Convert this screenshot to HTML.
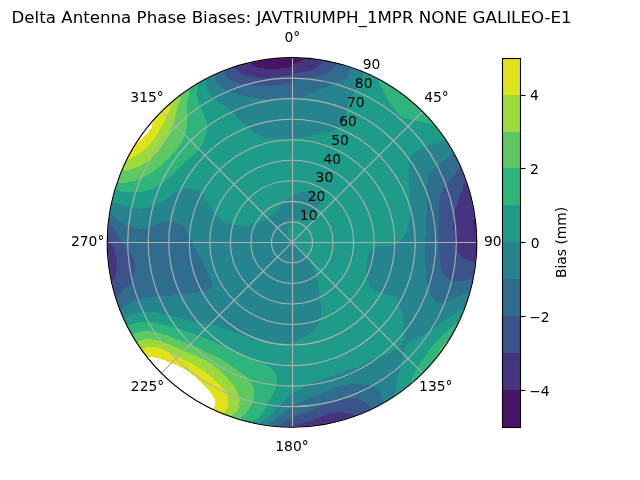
<!DOCTYPE html><html><head><meta charset="utf-8"><title>Delta Antenna Phase Biases</title>
<style>html,body{margin:0;padding:0;background:#fff}svg{display:block}text{font-family:'DejaVu Sans','Liberation Sans',sans-serif;fill:#000}</style></head><body>
<svg width="640" height="480" viewBox="0 0 640 480">
<rect width="640" height="480" fill="#fff"/>
<defs><clipPath id="c"><circle cx="292.000" cy="242.400" r="184.800"/></clipPath><clipPath id="cl"><rect x="0" y="0" width="292.5" height="243"/></clipPath><clipPath id="cr"><rect x="292.5" y="0" width="300" height="243"/></clipPath></defs>
<g clip-path="url(#c)" shape-rendering="crispEdges">
<rect x="100" y="50" width="390" height="390" fill="#1e9c89"/>
<path d="M111.7 202.3C116.7 203.2 120.7 204.4 125.0 205.5C129.3 206.6 133.8 208.2 137.5 208.6C141.2 209.0 143.8 208.5 146.9 207.8C150.0 207.2 153.2 206.0 156.3 204.7C159.4 203.4 163.2 201.6 165.6 200.0C168.0 198.4 169.0 196.6 171.0 195.2C173.0 193.8 175.1 192.4 177.8 191.3C180.5 190.2 184.3 189.2 187.2 188.9C190.1 188.6 192.7 188.9 195.0 189.7C197.3 190.5 199.5 191.9 201.3 193.6C203.1 195.3 204.4 197.6 205.9 199.8C207.4 202.0 209.0 204.6 210.6 206.9C212.2 209.2 213.5 211.8 215.3 213.9C217.1 216.0 219.2 217.8 221.6 219.4C223.9 221.0 226.5 222.3 229.4 223.3C232.3 224.3 235.7 225.2 238.8 225.6C241.9 226.0 245.0 226.0 248.1 225.6C251.2 225.2 254.6 224.2 257.5 223.3C260.4 222.4 263.1 221.4 265.3 220.2C267.5 219.0 268.6 217.6 270.5 216.0C272.4 214.4 274.6 213.1 276.6 210.9C278.7 208.8 280.5 205.3 282.8 203.1C285.1 200.9 288.0 199.4 290.6 197.7C293.2 196.0 295.8 194.1 298.4 193.0C301.0 191.9 303.9 191.5 306.3 191.4C308.7 191.3 310.3 190.8 312.5 192.2C314.7 193.6 318.4 197.8 319.5 200.0C320.6 202.2 320.0 203.7 318.8 205.5C317.6 207.3 314.9 209.2 312.5 210.9C310.1 212.6 307.3 214.2 304.7 215.6C302.1 217.0 299.2 218.3 296.9 219.5C294.5 220.7 292.0 221.3 290.6 222.7C289.2 224.1 288.7 225.9 288.3 228.1C287.9 230.3 287.7 233.5 288.3 235.9C288.9 238.3 290.3 240.3 292.0 242.3C293.7 244.3 296.3 245.7 298.4 247.8C300.5 249.9 302.7 252.5 304.7 254.8C306.7 257.1 308.6 259.4 310.2 261.9C311.8 264.4 312.9 266.8 314.1 269.7C315.3 272.6 316.4 275.7 317.2 279.1C318.0 282.5 318.3 286.1 318.8 290.0C319.3 293.9 319.8 299.2 320.3 302.5C320.8 305.8 321.7 307.1 321.6 310.0C321.6 312.9 320.9 317.0 320.0 320.0C319.1 323.0 318.0 325.5 316.0 328.0C314.0 330.5 311.0 333.0 308.0 335.0C305.0 337.0 300.7 338.8 298.0 340.0C295.3 341.2 294.0 341.9 292.0 342.5C290.0 343.1 288.7 343.4 286.0 343.5C283.3 343.6 279.7 343.4 276.0 343.0C272.3 342.6 268.0 341.8 264.0 341.0C260.0 340.2 256.0 339.1 252.0 338.0C248.0 336.9 243.7 335.7 240.0 334.5C236.3 333.3 233.3 332.2 230.0 331.0C226.7 329.8 223.3 328.7 220.0 327.5C216.7 326.3 212.7 324.6 210.0 324.0C207.3 323.4 206.4 323.9 203.8 323.6C201.2 323.3 198.1 322.8 194.4 322.0C190.8 321.2 186.1 320.1 181.9 318.9C177.7 317.7 173.6 316.0 169.4 315.0C165.2 314.0 161.1 313.2 156.9 312.7C152.7 312.2 148.3 311.6 144.4 311.9C140.5 312.1 136.7 313.2 133.4 314.2C130.1 315.2 129.5 315.5 124.8 318.1C120.1 320.7 111.6 339.7 105.0 330.0C98.4 320.3 86.7 281.7 85.0 260.0C83.3 238.3 90.5 209.6 95.0 200.0C99.5 190.4 106.7 201.4 111.7 202.3Z" fill="#25848e"/>
<path d="M205.6 80.0C207.5 84.4 205.8 84.2 206.3 86.3C206.8 88.4 207.7 90.5 208.8 92.5C209.9 94.5 211.4 96.4 213.1 98.1C214.8 99.8 216.8 101.1 218.8 102.5C220.8 103.9 222.9 104.8 225.0 106.3C227.1 107.8 229.4 109.6 231.3 111.3C233.2 113.0 234.8 114.6 236.3 116.3C237.9 118.0 239.2 120.0 240.6 121.3C242.0 122.6 243.0 122.6 244.7 124.1C246.4 125.6 248.8 128.5 250.9 130.3C253.0 132.1 254.8 133.8 257.2 135.0C259.6 136.2 262.1 136.7 265.0 137.3C267.9 138.0 271.3 138.6 274.4 138.9C277.5 139.2 280.9 138.9 283.8 138.9C286.7 138.9 289.1 139.0 292.0 138.8C294.9 138.6 297.7 138.1 301.3 137.5C304.9 136.9 309.9 136.0 313.8 135.2C317.7 134.4 321.6 133.6 324.7 132.8C327.8 132.0 330.1 131.4 332.5 130.5C334.9 129.6 337.0 128.7 338.8 127.3C340.6 125.9 342.2 124.1 343.4 121.9C344.6 119.7 345.1 116.7 345.8 114.1C346.5 111.5 346.5 109.2 347.3 106.3C348.1 103.4 349.2 100.0 350.8 96.9C352.4 93.8 354.9 91.3 357.0 87.5C359.1 83.7 361.1 80.5 363.3 74.2C365.5 68.0 381.9 56.5 370.0 50.0C358.1 43.5 321.2 33.3 292.0 35.0C262.8 36.7 209.4 52.5 195.0 60.0C180.6 67.5 203.7 75.6 205.6 80.0Z" fill="#25848e"/>
<path d="M444.8 139.4C441.4 141.3 437.9 142.1 434.7 143.3C431.4 144.5 428.4 145.1 425.3 146.4C422.2 147.7 418.4 149.5 415.9 151.1C413.4 152.7 411.7 153.9 410.5 155.8C409.3 157.8 409.2 159.3 408.9 162.8C408.6 166.3 408.8 172.0 408.9 176.9C409.0 181.8 409.4 187.8 409.7 192.5C410.0 197.2 410.4 201.7 410.5 205.0C410.6 208.3 410.8 209.4 410.5 212.5C410.2 215.6 409.8 219.8 408.9 223.4C408.0 227.1 406.7 231.3 405.0 234.4C403.3 237.5 401.2 240.2 398.8 242.2C396.4 244.1 393.5 245.4 390.6 246.1C387.7 246.8 384.0 245.8 381.3 246.1C378.6 246.4 376.2 246.7 374.2 247.7C372.2 248.7 370.7 250.4 369.5 252.3C368.3 254.2 367.7 256.6 367.2 259.4C366.7 262.1 366.4 265.7 366.4 268.8C366.4 271.9 366.7 275.2 367.2 278.1C367.7 281.0 368.2 283.8 369.5 285.9C370.8 288.0 373.0 289.4 375.0 290.6C377.0 291.8 378.9 292.4 381.3 293.0C383.7 293.6 386.8 293.9 389.1 294.5C391.4 295.1 393.7 295.5 395.3 296.9C396.9 298.3 397.5 300.5 398.5 302.8C399.5 305.1 400.3 307.7 401.1 310.6C401.9 313.5 402.9 316.9 403.4 320.0C403.9 323.1 404.0 326.5 404.2 329.4C404.4 332.3 405.0 334.7 404.5 337.2C404.0 339.7 402.5 342.2 401.0 344.4C399.5 346.6 397.8 348.9 395.3 350.6C392.8 352.3 389.3 353.2 385.9 354.5C382.5 355.8 378.6 356.8 375.0 358.4C371.4 360.0 367.2 362.3 364.1 363.9C361.0 365.5 358.7 366.9 356.3 367.8C353.9 368.7 352.9 368.1 349.7 369.1C346.5 370.1 341.4 372.2 337.2 373.8C333.0 375.4 328.9 376.8 324.7 378.4C320.5 379.9 316.1 381.4 312.2 383.1C308.3 384.8 304.7 386.8 301.3 388.6C297.9 390.4 294.3 392.3 292.0 393.8C289.7 395.3 289.1 396.1 287.5 397.5C285.9 398.9 284.2 400.7 282.5 402.5C280.8 404.3 279.2 406.3 277.5 408.1C275.8 409.9 274.2 411.5 272.5 413.1C270.8 414.7 269.2 416.1 267.5 417.5C265.8 418.9 263.9 420.2 262.5 421.3C261.1 422.4 260.6 422.1 259.4 424.4C258.1 426.7 243.2 431.6 255.0 435.0C266.8 438.4 305.8 449.2 330.0 445.0C354.2 440.8 389.1 418.3 400.0 410.0C410.9 401.7 395.8 399.9 395.3 395.2C394.8 390.5 396.1 386.2 396.9 381.9C397.7 377.6 399.1 373.3 400.0 369.4C400.9 365.5 401.7 361.5 402.3 358.4C402.9 355.3 402.9 353.1 403.9 350.6C404.8 348.1 405.7 345.5 408.0 343.5C410.3 341.5 414.4 340.6 417.5 338.8C420.6 337.0 423.8 334.6 426.9 332.5C430.0 330.4 433.2 328.4 436.3 326.3C439.4 324.2 442.5 322.1 445.6 320.0C448.7 317.9 451.9 315.8 455.0 313.8C458.1 311.9 460.2 310.6 464.4 308.3C468.6 306.0 474.9 311.4 480.0 300.0C485.1 288.6 495.0 265.0 495.0 240.0C495.0 215.0 486.7 168.0 480.0 150.0C473.3 132.0 460.9 133.8 455.0 132.0C449.1 130.2 448.2 137.5 444.8 139.4Z" fill="#25848e"/>
<path d="M109.4 213.1C112.3 214.4 113.3 216.1 115.6 217.8C117.9 219.5 120.8 221.7 123.4 223.3C126.0 224.9 128.4 226.3 131.3 227.2C134.2 228.1 137.5 228.9 140.6 228.8C143.7 228.7 146.9 227.3 150.0 226.4C153.1 225.5 156.3 224.2 159.4 223.3C162.5 222.5 165.7 221.3 168.8 221.3C171.9 221.3 175.5 222.2 178.1 223.3C180.7 224.4 182.6 226.1 184.4 228.0C186.2 229.9 187.3 231.5 189.1 235.0C190.9 238.5 193.0 244.7 195.0 248.8C197.0 252.9 199.5 256.3 201.3 259.7C203.1 263.1 204.5 266.0 205.9 269.1C207.3 272.2 208.8 275.3 209.8 278.4C210.8 281.5 212.3 285.8 211.9 287.8C211.5 289.8 209.3 289.6 207.5 290.2C205.7 290.8 203.7 291.2 201.3 291.7C199.0 292.2 196.1 292.9 193.4 293.3C190.7 293.7 188.5 293.6 185.0 294.0C181.5 294.4 177.2 295.1 172.5 295.5C167.8 295.9 162.1 295.8 156.9 296.3C151.7 296.8 145.7 297.6 141.3 298.6C136.9 299.6 133.7 300.8 130.3 302.5C126.9 304.2 125.1 306.2 120.9 308.8C116.7 311.4 110.5 326.1 105.0 318.0C99.5 309.9 89.2 278.0 88.0 260.0C86.8 242.0 94.4 217.8 98.0 210.0C101.6 202.2 106.5 211.8 109.4 213.1Z" fill="#2f6c8e"/>
<path d="M214.4 75.6C216.2 78.7 214.9 79.0 215.6 80.6C216.3 82.2 217.4 83.6 218.8 85.0C220.2 86.4 221.9 87.6 223.8 88.8C225.7 90.0 227.7 91.0 230.0 91.9C232.3 92.8 235.0 93.7 237.5 94.4C240.0 95.1 242.9 95.9 245.0 96.3C247.1 96.7 247.2 96.4 250.0 96.9C252.8 97.4 257.9 98.7 262.0 99.2C266.1 99.7 270.6 99.8 274.5 99.7C278.4 99.6 282.5 98.8 285.4 98.4C288.3 98.0 289.1 97.8 292.0 97.5C294.9 97.2 299.4 97.4 303.0 96.5C306.6 95.6 310.0 93.6 313.3 92.2C316.6 90.8 319.2 89.6 322.6 88.3C326.0 87.0 330.0 85.8 333.6 84.4C337.2 83.0 341.9 81.3 344.5 79.7C347.1 78.1 348.0 76.8 348.9 75.0C349.8 73.2 349.0 74.1 350.0 69.1C351.0 64.1 364.7 50.7 355.0 45.0C345.3 39.3 317.0 32.2 292.0 35.0C267.0 37.8 217.9 55.2 205.0 62.0C192.1 68.8 212.6 72.5 214.4 75.6Z" fill="#2f6c8e"/>
<path d="M452.7 152.7C450.0 154.6 448.1 157.6 445.6 159.7C443.1 161.8 440.1 163.2 437.8 165.2C435.5 167.1 433.3 169.2 431.6 171.4C429.9 173.6 428.5 175.4 427.7 178.4C426.9 181.4 426.7 185.0 426.6 189.4C426.5 193.8 427.0 200.6 426.9 205.0C426.8 209.4 426.3 211.2 426.1 215.6C425.9 220.0 425.7 226.1 425.6 231.3C425.5 236.5 425.4 241.7 425.3 246.9C425.2 252.1 425.2 258.6 425.3 262.5C425.4 266.4 425.8 266.7 426.1 270.0C426.4 273.3 426.2 278.6 426.9 282.5C427.5 286.4 428.7 290.4 430.0 293.4C431.3 296.4 432.9 298.8 434.7 300.5C436.5 302.2 438.5 303.6 440.9 303.6C443.2 303.6 445.9 301.7 448.8 300.5C451.7 299.3 455.2 297.8 458.1 296.6C461.0 295.4 463.9 294.2 465.9 293.4C467.8 292.6 466.6 292.8 469.8 291.9C473.0 291.0 480.8 296.6 485.0 288.0C489.2 279.4 495.0 259.7 495.0 240.0C495.0 220.3 490.5 185.3 485.0 170.0C479.5 154.7 467.4 150.9 462.0 148.0C456.6 145.1 455.4 150.8 452.7 152.7Z" fill="#2f6c8e"/>
<path d="M383.6 402.2C381.4 399.8 382.9 398.0 382.0 395.9C381.1 393.8 380.1 391.5 378.1 389.7C376.2 387.9 372.7 385.8 370.3 385.0C367.9 384.2 366.5 384.9 363.8 384.7C361.1 384.5 358.0 383.8 354.4 383.9C350.8 384.0 346.0 384.5 341.9 385.5C337.8 386.5 334.0 388.5 330.0 390.0C326.0 391.5 321.7 393.1 318.0 394.5C314.3 395.9 311.3 397.0 308.0 398.5C304.7 400.0 300.7 402.1 298.0 403.5C295.3 404.9 293.8 405.8 292.0 406.9C290.2 408.0 289.1 408.9 287.5 410.0C285.9 411.1 284.2 412.6 282.5 413.8C280.8 415.1 279.2 416.2 277.5 417.5C275.8 418.8 273.9 419.9 272.5 421.3C271.1 422.7 270.6 423.2 268.8 425.6C267.1 428.1 251.8 432.8 262.0 436.0C272.2 439.2 307.8 449.3 330.0 445.0C352.2 440.7 386.1 417.1 395.0 410.0C403.9 402.9 385.8 404.6 383.6 402.2Z" fill="#2f6c8e"/>
<path d="M224.4 71.3C226.3 74.5 225.2 75.4 226.3 76.9C227.5 78.5 229.4 79.6 231.3 80.6C233.2 81.6 234.8 82.1 237.5 82.8C240.2 83.5 243.9 84.0 247.5 84.6C251.1 85.2 254.8 86.1 258.8 86.3C262.8 86.5 267.1 86.1 271.3 85.8C275.5 85.5 280.4 85.0 283.8 84.5C287.2 84.0 289.3 83.5 292.0 83.1C294.7 82.7 297.8 88.3 300.0 82.0C302.2 75.7 306.3 52.8 305.0 45.0C303.7 37.2 307.0 32.8 292.0 35.0C277.0 37.2 226.3 52.0 215.0 58.0C203.7 64.0 222.5 68.1 224.4 71.3Z" fill="#3b528b" clip-path="url(#cl)"/>
<path d="M284.0 81.5C286.0 84.9 289.3 80.9 292.0 80.6C294.7 80.2 297.0 79.8 300.0 79.4C303.0 79.0 306.7 78.7 310.0 78.1C313.3 77.5 316.6 77.2 320.0 76.0C323.4 74.8 328.0 72.6 330.4 71.1C332.8 69.6 333.3 68.3 334.3 67.2C335.3 66.1 335.1 68.1 336.4 64.4C337.7 60.7 349.4 49.9 342.0 45.0C334.6 40.1 302.3 32.5 292.0 35.0C281.7 37.5 281.3 52.2 280.0 60.0C278.7 67.8 282.0 78.1 284.0 81.5Z" fill="#3b528b" clip-path="url(#cr)"/>
<path d="M460.5 166.7C458.0 169.0 456.9 171.3 455.0 173.8C453.1 176.3 450.8 179.0 448.8 181.6C446.9 184.2 444.7 186.8 443.3 189.4C441.9 192.0 440.9 194.6 440.2 197.2C439.5 199.8 439.4 201.9 439.1 205.0C438.8 208.1 438.7 211.2 438.6 215.6C438.5 220.0 438.5 226.1 438.6 231.3C438.7 236.5 438.8 241.7 439.1 246.9C439.4 252.1 439.8 258.6 440.2 262.5C440.6 266.4 441.0 268.0 441.7 270.0C442.4 272.0 442.9 273.1 444.1 274.7C445.3 276.3 447.0 278.3 448.8 279.4C450.6 280.5 452.4 281.2 455.0 281.3C457.6 281.4 461.3 280.8 464.4 280.2C467.5 279.6 469.1 279.2 473.4 277.8C477.7 276.4 486.4 280.0 490.0 272.0C493.6 264.0 495.8 245.3 495.0 230.0C494.2 214.7 489.2 191.7 485.0 180.0C480.8 168.3 474.1 162.2 470.0 160.0C465.9 157.8 463.0 164.4 460.5 166.7Z" fill="#3b528b"/>
<path d="M371.1 409.7C369.5 407.8 371.2 408.1 370.3 406.9C369.4 405.6 367.7 403.5 365.6 402.2C363.5 400.9 360.4 399.7 357.8 399.1C355.2 398.5 353.2 398.4 350.0 398.5C346.8 398.6 342.1 398.9 338.8 399.5C335.5 400.1 333.1 400.8 330.0 402.0C326.9 403.2 323.3 405.1 320.0 406.5C316.7 407.9 313.3 409.2 310.0 410.5C306.7 411.8 303.0 413.3 300.0 414.5C297.0 415.7 294.1 416.6 292.0 417.5C289.9 418.4 289.1 419.1 287.5 420.0C285.9 420.9 283.9 422.0 282.5 423.1C281.1 424.2 280.6 424.0 279.4 426.5C278.1 429.0 266.6 434.9 275.0 438.0C283.4 441.1 312.5 448.3 330.0 445.0C347.5 441.7 373.1 423.9 380.0 418.0C386.9 412.1 372.7 411.6 371.1 409.7Z" fill="#3b528b"/>
<path d="M108.6 223.3C110.7 224.8 111.1 225.5 112.5 227.2C113.9 228.9 115.6 231.1 117.2 233.4C118.8 235.8 120.3 239.0 121.9 241.3C123.5 243.7 125.0 245.4 126.6 247.5C128.2 249.6 130.0 251.5 131.3 253.8C132.6 256.2 133.8 259.0 134.4 261.6C135.1 264.2 135.5 266.8 135.2 269.4C134.9 272.0 133.7 274.6 132.8 277.2C131.9 279.8 131.4 282.9 129.7 285.0C128.0 287.1 124.2 288.4 122.5 290.0C120.8 291.6 120.3 293.4 119.4 294.7C118.5 296.0 119.4 296.1 117.0 297.8C114.6 299.5 109.5 311.3 105.0 305.0C100.5 298.7 90.8 274.5 90.0 260.0C89.2 245.5 96.9 224.1 100.0 218.0C103.1 211.9 106.5 221.8 108.6 223.3Z" fill="#3b528b"/>
<path d="M235.0 66.9C236.7 69.6 236.8 69.8 238.0 71.0C239.2 72.2 240.4 73.1 242.0 73.9C243.6 74.7 244.7 75.3 247.5 75.9C250.3 76.5 254.8 77.2 258.8 77.5C262.8 77.8 267.1 77.8 271.3 77.5C275.5 77.2 280.4 76.4 283.8 76.0C287.2 75.6 289.3 75.3 292.0 75.0C294.7 74.7 297.8 79.3 300.0 74.3C302.2 69.3 306.3 51.5 305.0 45.0C303.7 38.5 304.8 33.3 292.0 35.0C279.2 36.7 237.5 49.7 228.0 55.0C218.5 60.3 233.3 64.2 235.0 66.9Z" fill="#463480" clip-path="url(#cl)"/>
<path d="M284.0 74.8C286.0 77.9 289.3 74.1 292.0 73.8C294.7 73.4 297.0 73.0 300.0 72.5C303.0 72.0 307.2 71.4 310.0 70.6C312.8 69.8 315.2 68.7 317.0 67.6C318.8 66.5 319.5 65.1 320.5 64.1C321.5 63.0 321.6 64.5 322.9 61.3C324.1 58.1 333.1 49.4 328.0 45.0C322.9 40.6 300.0 33.3 292.0 35.0C284.0 36.7 281.3 48.4 280.0 55.0C278.7 61.6 282.0 71.7 284.0 74.8Z" fill="#463480" clip-path="url(#cr)"/>
<path d="M465.9 182.3C463.0 183.9 463.8 187.2 462.8 189.4C461.8 191.6 460.6 193.0 459.7 195.6C458.8 198.2 458.1 202.7 457.3 205.0C456.5 207.3 455.6 206.3 455.0 209.4C454.4 212.5 453.5 218.5 453.4 223.4C453.3 228.3 453.7 234.7 454.2 239.1C454.7 243.5 455.2 246.9 456.6 250.0C458.0 253.1 460.5 256.0 462.8 257.8C465.1 259.6 468.4 260.2 470.6 260.9C472.8 261.5 472.9 261.5 476.1 261.7C479.3 261.9 486.9 268.1 490.0 262.0C493.1 255.9 496.7 238.7 495.0 225.0C493.3 211.3 484.9 187.1 480.0 180.0C475.1 172.9 468.8 180.7 465.9 182.3Z" fill="#463480"/>
<path d="M355.2 414.7C352.9 413.3 350.6 414.0 348.1 413.6C345.6 413.2 343.2 412.6 340.3 412.5C337.4 412.4 333.9 412.4 330.9 413.0C327.9 413.6 325.6 414.8 322.5 416.0C319.4 417.2 315.8 418.8 312.5 420.0C309.2 421.2 305.4 422.2 302.5 423.1C299.6 424.0 296.8 425.0 295.0 425.6C293.2 426.2 293.2 425.2 292.0 426.9C290.8 428.6 281.7 433.0 288.0 436.0C294.3 439.0 317.7 447.3 330.0 445.0C342.3 442.7 357.8 427.1 362.0 422.0C366.2 416.9 357.5 416.1 355.2 414.7Z" fill="#463480"/>
<path d="M107.5 236.6C109.3 238.4 109.8 240.5 110.9 242.8C112.0 245.1 113.2 248.0 114.1 250.6C115.0 253.2 115.9 255.5 116.4 258.4C116.9 261.3 117.0 264.9 116.9 267.8C116.8 270.7 116.2 273.5 115.6 275.6C115.0 277.7 114.0 279.4 113.3 280.3C112.6 281.2 113.5 280.3 111.3 281.1C109.1 281.9 103.2 288.5 100.0 285.0C96.8 281.5 92.0 268.8 92.0 260.0C92.0 251.2 97.4 235.9 100.0 232.0C102.6 228.1 105.7 234.8 107.5 236.6Z" fill="#463480"/>
<path d="M249.8 62.0C251.3 64.6 252.6 64.6 254.2 65.6C255.8 66.6 256.6 67.2 259.5 67.8C262.4 68.4 267.2 68.9 271.3 69.0C275.4 69.1 280.4 68.5 283.8 68.2C287.2 67.9 289.3 67.4 292.0 66.9C294.7 66.5 297.8 69.2 300.0 65.5C302.2 61.9 306.3 50.1 305.0 45.0C303.7 39.9 302.0 34.2 292.0 35.0C282.0 35.8 252.0 45.5 245.0 50.0C238.0 54.5 248.3 59.4 249.8 62.0Z" fill="#471365" clip-path="url(#cl)"/>
<path d="M284.0 66.3C286.0 68.7 289.5 65.1 292.0 64.4C294.5 63.7 296.6 62.8 298.8 61.9C301.0 61.0 303.7 59.4 305.0 58.8C306.3 58.1 305.7 60.3 306.5 58.0C307.3 55.7 312.4 48.8 310.0 45.0C307.6 41.2 297.0 34.2 292.0 35.0C287.0 35.8 281.3 44.8 280.0 50.0C278.7 55.2 282.0 63.9 284.0 66.3Z" fill="#471365" clip-path="url(#cr)"/>
<path d="M475.3 212.0C473.4 213.5 473.9 216.7 473.6 219.0C473.4 221.3 473.4 223.7 473.8 226.0C474.2 228.3 473.9 231.5 475.8 233.0C477.7 234.5 483.5 238.8 485.0 235.0C486.5 231.2 486.6 213.8 485.0 210.0C483.4 206.2 477.2 210.5 475.3 212.0Z" fill="#471365"/>
<path d="M196.9 85.6C199.6 91.2 196.1 91.2 196.3 93.8C196.5 96.4 197.3 98.8 198.1 101.3C198.9 103.8 200.2 106.3 201.3 108.8C202.4 111.3 203.5 113.5 204.4 116.3C205.3 119.1 206.8 122.1 207.0 125.5C207.2 128.9 206.3 133.4 205.6 136.6C204.8 139.8 203.8 142.1 202.5 144.4C201.2 146.7 199.4 148.8 197.8 150.6C196.2 152.4 194.9 153.7 193.1 155.3C191.3 156.9 189.0 158.3 187.2 160.0C185.4 161.7 184.3 163.7 182.5 165.5C180.7 167.3 178.4 169.0 176.3 170.9C174.2 172.8 172.7 174.7 170.0 177.0C167.3 179.3 163.3 182.8 160.0 185.0C156.7 187.2 153.7 188.8 150.0 190.0C146.3 191.2 142.0 191.7 138.0 192.0C134.0 192.3 129.9 192.3 126.0 192.0C122.1 191.7 119.9 190.7 114.7 190.0C109.5 189.3 95.8 201.3 95.0 188.0C94.2 174.7 95.8 131.3 110.0 110.0C124.2 88.7 165.5 64.1 180.0 60.0C194.5 55.9 194.2 80.0 196.9 85.6Z" fill="#2fb47c"/>
<path d="M128.0 325.2C133.3 324.0 133.3 323.3 136.6 322.8C139.8 322.3 143.6 321.9 147.5 322.0C151.4 322.1 155.8 322.7 160.0 323.6C164.2 324.5 168.4 325.9 172.7 327.2C177.0 328.4 181.5 329.7 185.8 331.1C190.1 332.5 194.3 333.9 198.5 335.5C202.7 337.1 206.9 339.0 210.8 340.7C214.6 342.3 218.1 343.9 221.6 345.4C225.2 346.9 228.4 348.3 232.1 349.9C235.8 351.5 240.0 353.5 243.8 355.2C247.5 356.8 250.8 358.4 254.5 360.0C258.2 361.6 262.6 363.2 265.8 365.0C269.0 366.8 271.7 368.5 273.5 370.5C275.3 372.5 276.2 374.4 276.7 377.0C277.2 379.6 276.8 383.3 276.3 386.0C275.8 388.7 275.1 390.4 273.8 393.0C272.6 395.6 270.5 398.2 268.8 401.3C267.1 404.4 265.7 408.4 263.8 411.3C261.9 414.2 259.4 416.9 257.5 418.8C255.6 420.7 254.6 419.0 252.5 422.5C250.4 426.0 262.1 443.8 245.0 440.0C227.9 436.2 173.3 418.3 150.0 400.0C126.7 381.7 108.7 342.5 105.0 330.0C101.3 317.5 122.7 326.4 128.0 325.2Z" fill="#2fb47c"/>
<path d="M378.5 80.5C378.0 82.6 382.7 88.8 383.5 90.5C384.3 92.2 387.4 99.2 388.1 100.6C388.9 102.0 391.3 105.6 392.5 107.0C393.7 108.4 400.9 116.6 402.2 117.6C403.5 118.6 406.8 119.0 408.5 119.3C410.2 119.6 420.5 121.3 422.5 121.7C424.5 122.1 431.1 124.4 433.0 124.3C434.9 124.2 446.1 123.7 445.0 120.0C443.9 116.3 424.6 84.6 420.0 80.0C415.4 75.4 393.5 65.0 390.0 65.0C386.5 65.0 379.0 78.4 378.5 80.5Z" fill="#2fb47c"/>
<path d="M456.8 323.3C452.4 324.2 451.5 328.0 448.8 330.2C446.1 332.4 443.2 334.1 440.6 336.5C438.0 338.9 435.6 342.0 433.4 344.8C431.1 347.6 429.2 350.2 427.1 353.1C425.0 356.1 422.9 359.2 420.8 362.5C418.7 365.8 416.3 369.8 414.6 372.9C412.9 376.0 411.5 379.0 410.6 381.0C409.7 383.0 408.6 382.7 409.3 385.0C410.0 387.3 408.2 398.3 415.0 395.0C421.8 391.7 440.0 376.7 450.0 365.0C460.0 353.3 473.9 331.9 475.0 325.0C476.1 318.1 461.2 322.4 456.8 323.3Z" fill="#2fb47c"/>
<path d="M188.8 90.6C190.9 96.4 187.8 96.8 187.5 100.0C187.2 103.2 187.1 106.7 186.9 110.0C186.7 113.3 186.6 117.0 186.5 120.0C186.4 123.0 187.0 124.9 186.6 127.8C186.2 130.7 185.5 134.1 184.2 137.2C182.9 140.3 180.8 143.7 178.8 146.6C176.9 149.5 174.8 151.8 172.5 154.4C170.2 157.0 167.6 159.6 164.7 162.2C161.8 164.8 158.7 167.5 155.3 170.0C151.9 172.5 148.3 175.1 144.4 177.0C140.5 178.9 136.3 180.6 131.9 181.7C127.5 182.8 123.5 183.2 117.8 183.3C112.1 183.4 99.3 194.2 98.0 182.0C96.7 169.8 97.2 129.5 110.0 110.0C122.8 90.5 161.9 68.2 175.0 65.0C188.1 61.8 186.7 84.8 188.8 90.6Z" fill="#5ec962"/>
<path d="M132.7 333.8C137.6 332.4 138.3 331.8 141.3 331.4C144.3 331.0 147.2 331.0 150.6 331.4C154.0 331.8 157.9 332.7 161.7 333.7C165.4 334.7 169.6 336.2 173.1 337.5C176.5 338.8 179.3 340.3 182.3 341.6C185.4 342.9 188.1 343.8 191.3 345.1C194.4 346.5 197.9 348.0 201.2 349.5C204.5 351.1 207.8 352.7 211.2 354.4C214.6 356.0 218.4 357.8 221.7 359.6C225.0 361.4 227.9 363.4 230.9 365.4C234.0 367.5 237.2 369.8 239.9 371.9C242.7 374.0 245.4 375.8 247.5 378.2C249.6 380.5 251.4 383.7 252.5 385.8C253.6 387.9 254.0 388.5 254.1 390.9C254.2 393.3 254.0 397.4 253.3 400.3C252.7 403.2 251.6 405.8 250.2 408.1C248.8 410.5 246.4 412.5 244.7 414.4C242.9 416.3 241.8 416.3 239.7 419.7C237.6 423.1 246.9 438.3 232.0 435.0C217.1 431.7 170.0 415.8 150.0 400.0C130.0 384.2 114.9 351.0 112.0 340.0C109.1 329.0 127.8 335.2 132.7 333.8Z" fill="#5ec962"/>
<path d="M449.6 339.0C448.5 339.1 447.3 340.7 446.3 341.6C445.3 342.5 444.3 343.5 443.4 344.5C442.5 345.5 441.8 346.6 441.0 347.7C440.2 348.8 439.5 349.9 438.8 351.1C438.1 352.3 437.5 353.4 437.0 354.7C436.5 356.0 435.3 357.6 435.6 358.7C435.9 359.8 436.9 362.4 438.7 361.2C440.5 360.0 443.8 354.8 446.2 351.4C448.6 348.0 452.4 343.1 453.0 341.0C453.6 338.9 450.7 338.9 449.6 339.0Z" fill="#5ec962"/>
<path d="M179.4 96.9C181.5 102.6 178.1 103.3 177.5 106.3C176.9 109.3 176.0 112.7 175.6 115.0C175.2 117.3 175.5 117.9 174.8 120.0C174.2 122.1 172.9 124.9 171.7 127.8C170.5 130.7 169.5 134.1 167.8 137.2C166.1 140.3 163.7 143.7 161.6 146.6C159.5 149.5 157.7 151.9 155.3 154.4C153.0 156.9 150.4 159.3 147.5 161.4C144.6 163.5 141.2 165.5 138.1 166.9C135.0 168.3 131.4 169.3 128.8 170.0C126.2 170.7 127.3 170.5 122.5 170.8C117.7 171.1 102.1 182.1 100.0 172.0C97.9 161.9 99.2 126.7 110.0 110.0C120.8 93.3 153.4 74.2 165.0 72.0C176.6 69.8 177.3 91.2 179.4 96.9Z" fill="#9bd93c"/>
<path d="M137.3 341.6C142.0 340.1 142.9 339.5 145.9 339.2C148.9 338.9 152.1 339.4 155.3 340.0C158.5 340.6 161.7 341.6 165.0 342.7C168.2 343.8 171.6 345.2 174.9 346.7C178.1 348.1 181.0 349.9 184.5 351.3C188.1 352.8 192.8 354.1 196.2 355.5C199.6 357.0 202.0 358.5 204.9 360.1C207.8 361.8 210.7 363.4 213.5 365.5C216.3 367.5 219.1 369.8 221.7 372.3C224.4 374.8 227.1 377.7 229.4 380.5C231.7 383.2 233.9 385.9 235.5 388.7C237.1 391.5 238.6 394.5 239.2 397.2C239.8 399.9 239.6 402.6 239.2 405.0C238.8 407.4 238.2 409.4 236.9 411.3C235.6 413.2 233.9 413.2 231.4 416.7C228.9 420.1 235.6 434.8 222.0 432.0C208.4 429.2 167.3 414.0 150.0 400.0C132.7 386.0 120.1 357.7 118.0 348.0C115.9 338.3 132.7 343.1 137.3 341.6Z" fill="#9bd93c"/>
<path d="M169.5 105.6C171.5 110.6 168.1 112.3 167.2 115.0C166.3 117.7 165.3 119.6 164.1 122.0C162.9 124.4 161.5 126.9 160.0 129.4C158.5 131.9 157.1 134.6 155.3 137.2C153.5 139.8 151.4 142.5 149.1 145.0C146.8 147.5 143.9 150.1 141.3 152.0C138.7 153.9 135.6 155.4 133.4 156.7C131.2 158.0 132.7 158.4 128.0 159.8C123.3 161.2 107.2 172.5 105.0 165.0C102.8 157.5 106.7 128.3 115.0 115.0C123.3 101.7 145.9 86.6 155.0 85.0C164.1 83.4 167.5 100.6 169.5 105.6Z" fill="#dfe318"/>
<path d="M142.0 348.6C146.0 347.3 146.6 347.1 149.1 347.0C151.6 346.9 154.3 347.2 156.9 347.7C159.6 348.3 162.3 349.3 165.0 350.4C167.7 351.5 170.5 352.9 173.2 354.3C175.9 355.7 178.4 357.3 181.2 358.7C184.0 360.0 187.2 361.2 190.0 362.6C192.7 364.0 195.2 365.4 197.8 367.0C200.4 368.6 203.0 370.2 205.6 372.1C208.2 374.0 210.9 376.2 213.3 378.4C215.7 380.6 218.1 383.1 220.1 385.2C222.2 387.3 224.2 389.0 225.5 391.0C226.8 393.0 227.5 394.9 228.0 397.0C228.5 399.1 228.5 401.4 228.3 403.4C228.1 405.4 227.5 407.3 226.7 408.9C225.9 410.5 226.0 409.9 223.6 413.1C221.2 416.3 224.3 430.2 212.0 428.0C199.7 425.8 164.5 412.2 150.0 400.0C135.5 387.8 126.3 363.6 125.0 355.0C123.7 346.4 138.0 349.9 142.0 348.6Z" fill="#dfe318"/>
<path d="M154.5 119.5C157.5 120.5 153.6 120.0 153.1 121.3C152.6 122.6 152.9 125.2 151.6 127.5C150.3 129.8 147.4 133.1 145.3 135.3C143.2 137.5 140.6 139.4 139.1 140.8C137.6 142.2 139.7 142.0 136.5 143.5C133.3 145.0 120.2 154.8 120.0 150.0C119.8 145.2 129.2 120.1 135.0 115.0C140.8 109.9 151.5 118.5 154.5 119.5Z" fill="#ffffff"/>
<path d="M148.3 357.2C151.7 356.4 153.1 357.1 155.3 357.5C157.5 357.8 159.6 358.6 161.7 359.3C163.9 360.0 165.6 360.8 168.1 361.8C170.7 362.8 174.0 364.2 176.9 365.5C179.8 366.8 182.9 368.0 185.6 369.7C188.4 371.3 190.9 373.3 193.4 375.4C195.9 377.4 198.5 379.7 200.6 381.8C202.8 383.9 204.7 386.0 206.5 388.0C208.3 390.0 210.1 392.0 211.5 394.0C212.9 396.0 214.1 398.3 214.8 400.0C215.5 401.7 215.7 402.6 215.5 404.0C215.3 405.4 215.2 405.1 213.4 408.1C211.7 411.1 215.6 423.4 205.0 422.0C194.4 420.6 161.7 410.0 150.0 400.0C138.3 390.0 135.3 369.1 135.0 362.0C134.7 354.9 144.9 358.0 148.3 357.2Z" fill="#ffffff"/>
</g>
<g clip-path="url(#c)" fill="none" stroke="#b0b0b0" stroke-width="1.111">
<path d="M292.50 242.40L292.50 57.60"/>
<path d="M292.00 242.40L422.67 111.73"/>
<path d="M292.00 242.50L476.80 242.50"/>
<path d="M292.00 242.40L422.67 373.07"/>
<path d="M292.50 242.40L292.50 427.20"/>
<path d="M292.00 242.40L161.33 373.07"/>
<path d="M292.00 242.50L107.20 242.50"/>
<path d="M292.00 242.40L161.33 111.73"/>
<circle cx="292.00" cy="242.40" r="20.533"/>
<circle cx="292.00" cy="242.40" r="41.067"/>
<circle cx="292.00" cy="242.40" r="61.600"/>
<circle cx="292.00" cy="242.40" r="82.133"/>
<circle cx="292.00" cy="242.40" r="102.667"/>
<circle cx="292.00" cy="242.40" r="123.200"/>
<circle cx="292.00" cy="242.40" r="143.733"/>
<circle cx="292.00" cy="242.40" r="164.267"/>
<circle cx="292.00" cy="242.40" r="184.800"/>
</g>
<circle cx="292.00" cy="242.40" r="184.800" fill="none" stroke="#000" stroke-width="1.111"/>
<g font-size="13.889" text-anchor="middle">
<text x="292.40" y="42.29">0°</text>
<text x="436.52" y="101.96">45°</text>
<text x="496.24" y="246.23">90°</text>
<text x="435.82" y="390.66">135°</text>
<text x="292.00" y="450.98">180°</text>
<text x="147.58" y="390.66">225°</text>
<text x="87.66" y="246.38">270°</text>
<text x="147.08" y="101.91">315°</text>
</g><g font-size="13.889">
<text x="299.86" y="219.74">10</text>
<text x="307.72" y="200.67">20</text>
<text x="315.57" y="181.90">30</text>
<text x="323.43" y="163.63">40</text>
<text x="331.29" y="144.66">50</text>
<text x="339.15" y="125.69">60</text>
<text x="347.00" y="106.72">70</text>
<text x="354.86" y="87.75">80</text>
<text x="362.72" y="68.78">90</text>
</g>
<text x="291.60" y="22.70" font-size="16.667" text-anchor="middle">Delta Antenna Phase Biases: JAVTRIUMPH_1MPR NONE GALILEO-E1</text>
<g shape-rendering="crispEdges">
<rect x="502" y="390" width="19" height="37" fill="#471365"/>
<rect x="502" y="353" width="19" height="37" fill="#463480"/>
<rect x="502" y="316" width="19" height="37" fill="#3b528b"/>
<rect x="502" y="279" width="19" height="37" fill="#2f6c8e"/>
<rect x="502" y="242" width="19" height="37" fill="#25848e"/>
<rect x="502" y="205" width="19" height="37" fill="#1e9c89"/>
<rect x="502" y="168" width="19" height="37" fill="#2fb47c"/>
<rect x="502" y="132" width="19" height="36" fill="#5ec962"/>
<rect x="502" y="95" width="19" height="37" fill="#9bd93c"/>
<rect x="502" y="58" width="19" height="37" fill="#dfe318"/>
</g>
<rect x="502.5" y="58.5" width="18" height="369" fill="none" stroke="#000" stroke-width="1.111"/>
<g font-size="13.889" stroke="#000" stroke-width="1.111">
<path d="M521 390.5h4.5"/><text stroke="none" x="529.20" y="395.52">−4</text>
<path d="M521 316.5h4.5"/><text stroke="none" x="529.20" y="321.60">−2</text>
<path d="M521 242.5h4.5"/><text stroke="none" x="530.80" y="247.68">0</text>
<path d="M521 168.5h4.5"/><text stroke="none" x="530.00" y="173.76">2</text>
<path d="M521 95.5h4.5"/><text stroke="none" x="530.00" y="99.84">4</text>
</g>
<text font-size="13.889" text-anchor="middle" transform="translate(566.39 242.40) rotate(-90)">Bias (mm)</text>
</svg></body></html>
